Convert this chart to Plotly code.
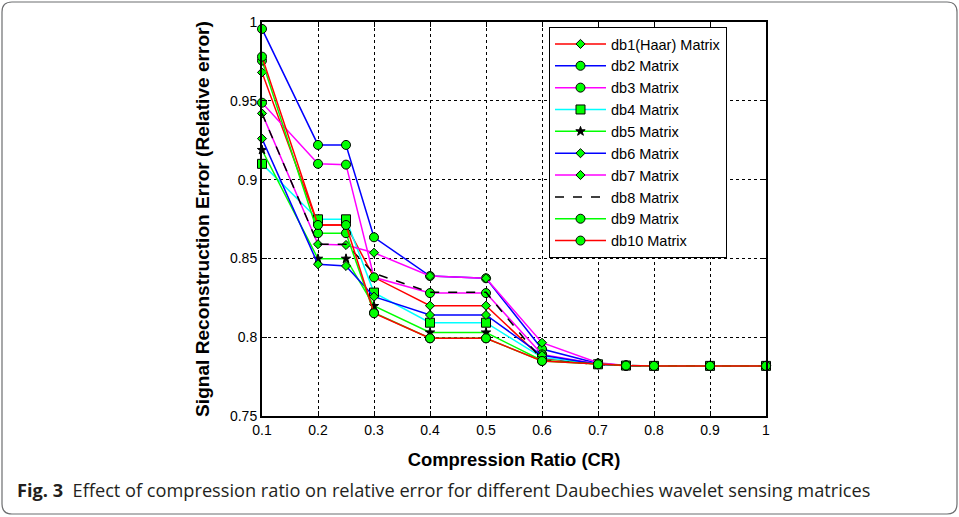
import plotly.graph_objects as go

# Compression ratios at which the relative error was evaluated
cr = [0.1, 0.2, 0.25, 0.3, 0.4, 0.5, 0.6, 0.7, 0.75, 0.8, 0.9, 1.0]

# Relative reconstruction error per Daubechies sensing matrix
db1 = [0.968, 0.8712, 0.8712, 0.838, 0.820, 0.820, 0.7866, 0.7828, 0.782, 0.7818, 0.7818, 0.7818]
db2 = [0.9956, 0.922, 0.922, 0.8634, 0.8388, 0.8374, 0.7925, 0.7833, 0.782, 0.7818, 0.7818, 0.7818]
db3 = [0.9488, 0.910, 0.9095, 0.838, 0.828, 0.828, 0.7891, 0.7830, 0.782, 0.7818, 0.7818, 0.7818]
db4 = [0.910, 0.8748, 0.8748, 0.8283, 0.8092, 0.8092, 0.7872, 0.7828, 0.782, 0.7818, 0.7818, 0.7818]
db5 = [0.9188, 0.8498, 0.8498, 0.8198, 0.803, 0.803, 0.7852, 0.7828, 0.782, 0.7818, 0.7818, 0.7818]
db6 = [0.926, 0.8463, 0.8452, 0.8257, 0.8141, 0.8141, 0.7885, 0.7828, 0.782, 0.7818, 0.7818, 0.7818]
db7 = [0.942, 0.859, 0.8585, 0.8536, 0.8388, 0.8374, 0.7965, 0.7838, 0.782, 0.7818, 0.7818, 0.7818]
db8 = [0.942, 0.859, 0.859, 0.8405, 0.8285, 0.8285, 0.7855, 0.7828, 0.782, 0.7818, 0.7818, 0.7818]
db9 = [0.9755, 0.866, 0.866, 0.8156, 0.7993, 0.7993, 0.7849, 0.7828, 0.782, 0.7818, 0.7818, 0.7818]
db10 = [0.978, 0.8712, 0.8712, 0.8152, 0.7993, 0.7993, 0.7849, 0.7828, 0.782, 0.7818, 0.7818, 0.7818]

names = ["db1(Haar) Matrix", "db2 Matrix", "db3 Matrix", "db4 Matrix", "db5 Matrix",
         "db6 Matrix", "db7 Matrix", "db8 Matrix", "db9 Matrix", "db10 Matrix"]
series = [db1, db2, db3, db4, db5, db6, db7, db8, db9, db10]

x_ticks = [0.1, 0.2, 0.3, 0.4, 0.5, 0.6, 0.7, 0.8, 0.9, 1.0]
x_tick_text = ["0.1", "0.2", "0.3", "0.4", "0.5", "0.6", "0.7", "0.8", "0.9", "1"]
y_ticks = [0.75, 0.8, 0.85, 0.9, 0.95, 1.0]
y_tick_text = ["0.75", "0.8", "0.85", "0.9", "0.95", "1"]

# line colour, marker symbol, marker size, marker fill, dash
styles = [
    ("#ff0000", "diamond", 7, "#00ff00", "solid"),
    ("#0000ff", "circle", 9, "#00ff00", "solid"),
    ("#ff00ff", "circle", 9, "#00ff00", "solid"),
    ("#00ffff", "square", 9, "#00ff00", "solid"),
    ("#00ff00", "star", 7, "#000000", "solid"),
    ("#0000ff", "diamond", 7, "#00ff00", "solid"),
    ("#ff00ff", "diamond", 7, "#00ff00", "solid"),
    ("#000000", None, 0, None, "dash"),
    ("#00ff00", "circle", 9, "#00ff00", "solid"),
    ("#ff0000", "circle", 9, "#00ff00", "solid"),
]

W, H = 959, 517
L, R, T, B = 262, 766, 22, 416  # plot area in pixels
FONT = "Liberation Sans"


def px(xp):
    return (xp - L) / (R - L)


def py(yp):
    return (B - yp) / (B - T)


fig = go.Figure()
for name, ys, (col, sym, size, fill, dash) in zip(names, series, styles):
    if sym is None:
        mode = "lines"
        marker = None
    else:
        mode = "lines+markers"
        marker = dict(symbol=sym, size=size, color=fill,
                      line=dict(color="#000000", width=1))
    fig.add_trace(go.Scatter(
        x=cr, y=ys, name=name, mode=mode, legendgroup=name,
        line=dict(color=col, width=1.5, dash=dash),
        marker=marker, cliponaxis=False,
    ))

axis_font = dict(family=FONT, size=14, color="#000000")

fig.update_xaxes(
    range=[0.1, 1.0], tickvals=x_ticks, ticktext=x_tick_text,
    showline=True, linecolor="#000000", linewidth=2, mirror="ticks",
    ticks="inside", ticklen=5, tickcolor="#000000",
    showgrid=True, gridcolor="#000000", gridwidth=1, griddash="dot",
    zeroline=False, tickfont=axis_font,
    title=dict(text="<b>Compression Ratio (CR)</b>", standoff=16,
               font=dict(family=FONT, size=18.4, color="#000000")),
)
fig.update_yaxes(
    range=[0.75, 1.0], tickvals=y_ticks, ticktext=y_tick_text,
    showline=True, linecolor="#000000", linewidth=2, mirror="ticks",
    ticks="inside", ticklen=5, tickcolor="#000000",
    showgrid=True, gridcolor="#000000", gridwidth=1, griddash="dot",
    zeroline=False, tickfont=axis_font,
    title=dict(text="<b>Signal Reconstruction Error (Relative error)</b>", standoff=15,
               font=dict(family=FONT, size=19.1, color="#000000")),
)

# rounded frame around figure and caption
r = 10
x0, x1, y0, y1 = 2, 957, 2, 514
path = (f"M {px(x0 + r)},{py(y0)} L {px(x1 - r)},{py(y0)} "
        f"Q {px(x1)},{py(y0)} {px(x1)},{py(y0 + r)} "
        f"L {px(x1)},{py(y1 - r)} Q {px(x1)},{py(y1)} {px(x1 - r)},{py(y1)} "
        f"L {px(x0 + r)},{py(y1)} Q {px(x0)},{py(y1)} {px(x0)},{py(y1 - r)} "
        f"L {px(x0)},{py(y0 + r)} Q {px(x0)},{py(y0)} {px(x0 + r)},{py(y0)} Z")
fig.add_shape(type="path", path=path, xref="paper", yref="paper",
              line=dict(color="#6d6e70", width=1.2), layer="below")

fig.add_annotation(
    x=px(15), y=py(490), xref="paper", yref="paper", xanchor="left", yanchor="middle",
    showarrow=False,
    text="<b>Fig. 3</b>  Effect of compression ratio on relative error for different Daubechies wavelet sensing matrices",
    font=dict(family="Open Sans", size=18.2, color="#231f20"),
)

fig.update_layout(
    width=W, height=H,
    margin=dict(l=L, r=W - R, t=T, b=H - B),
    paper_bgcolor="#ffffff", plot_bgcolor="#ffffff",
    showlegend=True,
    legend=dict(
        x=px(549), y=py(27), xanchor="left", yanchor="top",
        bgcolor="#ffffff", bordercolor="#000000", borderwidth=1,
        font=dict(family=FONT, size=14.5, color="#000000"),
        tracegroupgap=0, itemwidth=51,
    ),
)

fig.write_html("out.html")
